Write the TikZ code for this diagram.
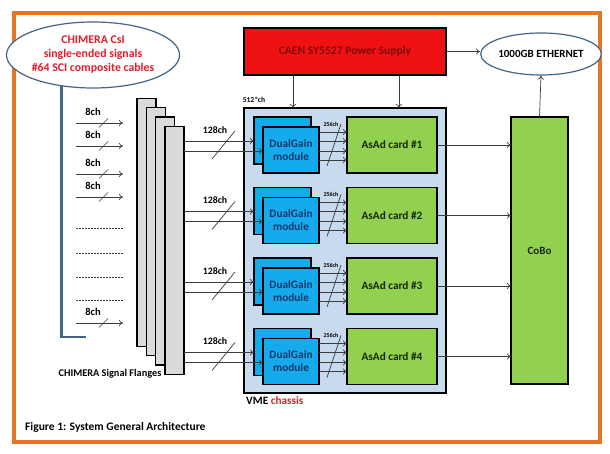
\documentclass[tikz,border=0pt]{standalone}
\usepackage{fontspec}
\setmainfont{Carlito}
\usetikzlibrary{arrows.meta,shapes.geometric,calc}
\definecolor{frameor}{RGB}{228,118,38}
\definecolor{steel}{RGB}{70,100,135}
\definecolor{txtred}{RGB}{225,30,45}
\definecolor{psred}{RGB}{240,18,18}
\definecolor{psdark}{RGB}{125,10,10}
\definecolor{vmebg}{RGB}{200,218,238}
\definecolor{dgblue}{RGB}{20,170,235}
\definecolor{dgtxt}{RGB}{20,55,110}
\definecolor{asgreen}{RGB}{146,208,80}
\definecolor{astxt}{RGB}{20,40,10}
\definecolor{flgray}{RGB}{218,218,218}
\definecolor{conn}{RGB}{60,60,60}
\tikzset{
  x=1pt,y=-1pt,
  arr/.style={draw=conn,line width=0.7pt,-{To[length=4pt,width=6pt]}},
  slashln/.style={draw=conn,line width=0.7pt},
  boxblk/.style={draw=black,line width=1.3pt,inner sep=0pt,outer sep=0pt},
  flange/.style={boxblk,fill=flgray,minimum width=19pt,minimum height=248pt},
  dgback/.style={boxblk,fill=dgblue,minimum width=57pt,minimum height=47pt},
  dgfront/.style={boxblk,fill=dgblue,minimum width=56pt,minimum height=46pt,font=\fontsize{11.3}{13}\selectfont\bfseries,text=dgtxt,align=center},
  asad/.style={boxblk,fill=asgreen,minimum width=90pt,minimum height=56pt,font=\fontsize{11.3}{13}\selectfont\bfseries,text=astxt},
  lbl/.style={font=\fontsize{9.5}{10}\selectfont\bfseries,text=black,inner sep=0pt},
  tiny/.style={font=\fontsize{6}{7}\selectfont\bfseries,text=black,inner sep=0pt},
}
\begin{document}
\begin{tikzpicture}
\useasboundingbox (0,0) rectangle (610,454);
\fill[white] (0,0) rectangle (610,454);
\draw[frameor,line width=3.5pt] (14,13) rectangle (600,442);

% CHIMERA ellipse and bracket
\node[ellipse,draw=steel,line width=1.2pt,fill=white,minimum width=146pt,minimum height=66pt,inner sep=0pt,
  font=\fontsize{11.8}{14}\selectfont\bfseries,text=txtred,align=center] (ell) at (93,55)
  {CHIMERA CsI\\single-ended signals\\\#64 SCI composite cables};
\coordinate (brk) at (86,337);
\draw[steel,line width=2.5pt] (ell.-135) |- (brk);

% flanges
\node[flange] (fl1) at (146.5,222.5) {};
\node[flange] (fl2) at (155.8,231.8) {};
\node[flange] (fl3) at (165.1,241.1) {};
\node[flange] (fl4) at (174.4,250.4) {};
\node[lbl,font=\fontsize{10.3}{12}\selectfont\bfseries] (fllbl) at (110,374) {CHIMERA Signal Flanges};

% 8ch inputs
\foreach \i/\y in {a/123,b/146,c/174,d/197,e/323}{
  \coordinate (in\i s) at (76,\y);
  \coordinate (in\i e) at (123,\y);
  \draw[arr] (in\i s) -- (in\i e);
  \draw[slashln] ($(in\i s)+(23,4.5)$) -- ($(in\i s)+(32,-4.5)$);
  \node[lbl,font=\fontsize{10.5}{12}\selectfont\bfseries] (l8\i) at (93,{\y-11}) {8ch};
}
\foreach \i/\y in {a/228,b/253,c/277,d/300}{
  \coordinate (ds\i) at (76,\y);
  \coordinate (de\i) at (123,\y);
  \draw[conn,line width=0.6pt,dash pattern=on 1.8pt off 1.2pt] (ds\i) -- (de\i);
}

% power supply
\node[boxblk,fill=psred,minimum width=202pt,minimum height=47pt,
  font=\fontsize{11.6}{13}\selectfont\bfseries,text=psdark] (ps) at (345,51.5) {CAEN SY5527 Power Supply};

% VME chassis
\node[boxblk,line width=1.1pt,fill=vmebg,minimum width=202pt,minimum height=285pt] (vme) at (345,250.5) {};
\node[lbl,anchor=west,font=\fontsize{11.3}{13}\selectfont\bfseries] (vmelbl) at (246,401) {VME \textcolor{txtred}{chassis}};
\node[lbl,font=\fontsize{7.5}{9}\selectfont\bfseries] (ch512) at (254,100) {512*ch};

\coordinate (xa) at (293,0);
\coordinate (xb) at (399,0);
\draw[arr] (ps.south -| xa) -- (vme.north -| xa);
\draw[arr] (ps.south -| xb) -- (vme.north -| xb);

% ethernet
\node[ellipse,draw=steel,line width=1.2pt,fill=white,minimum width=106pt,minimum height=42pt,inner sep=0pt,
  font=\fontsize{11}{13}\selectfont\bfseries] (eth) at (541,54) {1000GB ETHERNET};
\draw[arr] (ps.east) -- (eth.west |- ps.east);

% CoBo
\node[boxblk,fill=asgreen,minimum width=57pt,minimum height=267pt,font=\fontsize{11}{13}\selectfont\bfseries,text=astxt] (cobo) at (539.5,250.5) {CoBo};
\draw[arr] (cobo.north) -- (eth.south);

% rows
\foreach \k/\dy in {1/0,2/70.5,3/141,4/211.5}{
  \node[dgback] (dgb\k) at (282.5,{140.5+\dy}) {};
  \node[dgfront] (dg\k) at (291,{150+\dy}) {DualGain\\module};
  \node[asad] (as\k) at (392,{145+\dy}) {AsAd card \#\k};
  % 128ch
  \coordinate (ra\k) at (0,{141+\dy});
  \coordinate (rb\k) at (0,{151+\dy});
  \draw[arr] (fl4.east |- ra\k) -- (dgb\k.west |- ra\k);
  \draw[arr] (fl4.east |- rb\k) -- (dg\k.west |- rb\k);
  \coordinate (sl\k a) at (212,{159+\dy});
  \coordinate (sl\k b) at (235,{131+\dy});
  \draw[slashln] (sl\k a) -- (sl\k b);
  \node[lbl,font=\fontsize{9.8}{11}\selectfont\bfseries] (l128\k) at (215,{130+\dy}) {128ch};
  % 256ch
  \foreach \yy [count=\j] in {132,141,151,160}{
    \coordinate (rc\k\j) at (0,{\yy+\dy});
    \draw[arr] (dg\k.east |- rc\k\j) -- (as\k.west |- rc\k\j);
  }
  \coordinate (sm\k a) at (327,{166+\dy});
  \coordinate (sm\k b) at (341,{124+\dy});
  \draw[slashln] (sm\k a) -- (sm\k b);
  \node[tiny] (l256\k) at (331,{124+\dy}) {256ch};
  % to CoBo
  \draw[arr] (as\k.east) -- (cobo.west |- as\k.east);
}

% caption
\node[lbl,anchor=west,font=\fontsize{11.5}{13}\selectfont\bfseries] (cap) at (25,427) {Figure 1: System General Architecture};
\end{tikzpicture}
\end{document}
